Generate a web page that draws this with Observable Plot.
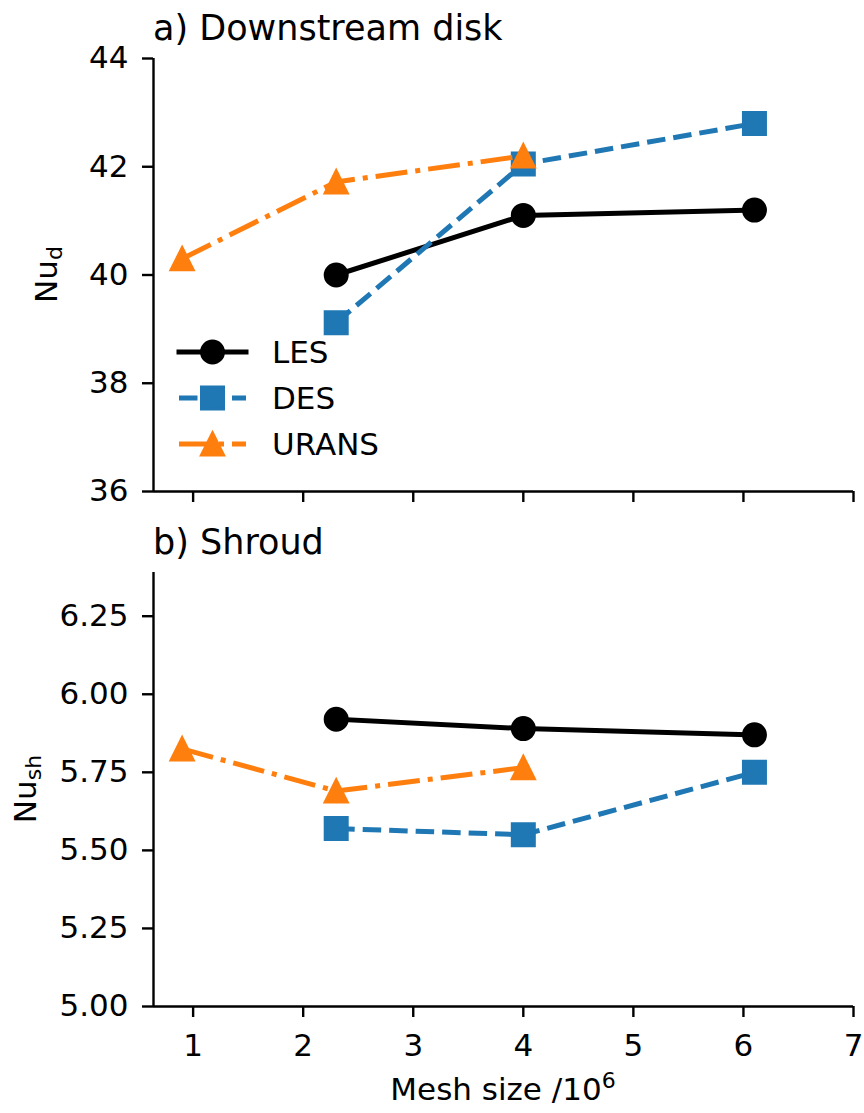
<!DOCTYPE html>
<html><head><meta charset="utf-8">
<script src="https://cdn.jsdelivr.net/npm/d3@7"></script>
<script src="https://cdn.jsdelivr.net/npm/@observablehq/plot@0.6"></script>
<style>
body{margin:0;background:#fff;}
#chart{width:864px;}
#chart svg{display:block;}
#chart g[aria-label$="tick label"], #chart g[aria-label$="tick label"] text { font-size: 31px !important; }
</style></head><body><div id="chart"></div>
<script>
// ---- data ----
const seriesNames = ["LES", "DES", "URANS"];
const seriesColors = ["#000000", "#1f77b4", "#ff7f0e"];
const lesMesh = [2.3, 4, 6.1];
const lesDisk = [40.0, 41.1, 41.2];
const lesShroud = [5.92, 5.89, 5.87];
const desMesh = [2.3, 4, 6.1];
const desDisk = [39.12, 42.05, 42.8];
const desShroud = [5.57, 5.55, 5.75];
const uransMesh = [0.9, 2.3, 4];
const uransDisk = [40.3, 41.72, 42.2];
const uransShroud = [5.825, 5.69, 5.765];
const xTicks = [1, 2, 3, 4, 5, 6, 7];
const diskTicks = [36, 38, 40, 42, 44];
const shroudTicks = [5.00, 5.25, 5.50, 5.75, 6.00, 6.25];
const titleTop = "a) Downstream disk";
const titleBottom = "b) Shroud";
const xLabel = ["Mesh size /10", "6"];
const yLabelTop = ["Nu", "d"];
const yLabelBottom = ["Nu", "sh"];

// ---- styles ----
const FONT = "DejaVu Sans";
const FS = 31;
const xDomain = [0.64, 7];
const diskDomain = [36, 44];
const shroudDomain = [5.0, 6.39];
const LW = 5, MR = 11, MEW = 3, SPW = 2.4, TICK = 11;
const squareSym = {draw(ctx, size) { const r = Math.sqrt(size / Math.PI); ctx.moveTo(-r, -r); ctx.lineTo(r, -r); ctx.lineTo(r, r); ctx.lineTo(-r, r); ctx.closePath(); }};
const triSym = {draw(ctx, size) { const r = Math.sqrt(size / Math.PI); ctx.moveTo(0, -r); ctx.lineTo(r, r); ctx.lineTo(-r, r); ctx.closePath(); }};
const symbols = [d3.symbolCircle, squareSym, triSym];
const dashes = [null, "18.5,8", "32,8,5,8"];
const caps = ["square", "butt", "butt"];

const meshAll = [lesMesh, desMesh, uransMesh];
const diskAll = [lesDisk, desDisk, uransDisk];
const shroudAll = [lesShroud, desShroud, uransShroud];
const rows = seriesNames.map((s, i) => meshAll[i].map((m, j) => ({series: s, mesh: m, disk: diskAll[i][j], shroud: shroudAll[i][j]})));

function seriesMarks(key) {
  const out = [];
  rows.forEach((data, i) => {
    out.push(Plot.line(data, {x: "mesh", y: key, stroke: seriesColors[i], strokeWidth: LW,
      strokeDasharray: dashes[i] || undefined, strokeLinecap: caps[i], strokeLinejoin: "round"}));
    out.push(Plot.dot(data, {x: "mesh", y: key, r: MR, symbol: symbols[i], fill: seriesColors[i],
      stroke: seriesColors[i], strokeWidth: MEW}));
  });
  return out;
}

const baseStyle = {fontFamily: FONT, fontSize: FS + "px", color: "#000", background: "#fff", overflow: "visible"};

const topPlot = Plot.plot({
  width: 864, height: 520, marginLeft: 153, marginRight: 11, marginTop: 58, marginBottom: 29,
  style: baseStyle,
  x: {domain: xDomain}, y: {domain: diskDomain},
  marks: [
    Plot.axisY({ticks: diskTicks, tickSize: TICK, tickPadding: 14, strokeWidth: SPW, label: null, fontSize: FS, tickFormat: d3.format("d")}),
    Plot.axisX({ticks: xTicks, tickSize: TICK, strokeWidth: SPW, label: null, fontSize: FS, tickFormat: () => ""}),
    Plot.ruleX([xDomain[0]], {strokeWidth: SPW}),
    Plot.ruleY([diskDomain[0]], {strokeWidth: SPW}),
    ...seriesMarks("disk")
  ]
});

const bottomPlot = Plot.plot({
  width: 864, height: 593, marginLeft: 153, marginRight: 11, marginTop: 52, marginBottom: 107,
  style: baseStyle,
  x: {domain: xDomain}, y: {domain: shroudDomain},
  marks: [
    Plot.axisY({ticks: shroudTicks, tickSize: TICK, tickPadding: 14, strokeWidth: SPW, label: null, fontSize: FS, tickFormat: d3.format(".2f")}),
    Plot.axisX({ticks: xTicks, tickSize: TICK, tickPadding: 16, strokeWidth: SPW, label: null, fontSize: FS, tickFormat: d3.format("d")}),
    Plot.ruleX([xDomain[0]], {strokeWidth: SPW}),
    Plot.ruleY([shroudDomain[0]], {strokeWidth: SPW}),
    ...seriesMarks("shroud")
  ]
});

const chart = document.getElementById("chart");
chart.append(topPlot, bottomPlot);

function addTitle(svg, text, y) {
  d3.select(svg).append("text").attr("x", 153).attr("y", y).attr("text-anchor", "start")
    .attr("font-family", FONT).attr("font-size", 35).attr("fill", "#000").text(text);
}
addTitle(topPlot, titleTop, 40);
addTitle(bottomPlot, titleBottom, 34);

function addYLabel(svg, parts, x, y) {
  const t = d3.select(svg).append("text").attr("transform", `translate(${x},${y}) rotate(-90)`)
    .attr("text-anchor", "middle").attr("font-family", FONT).attr("font-size", FS).attr("fill", "#000");
  t.append("tspan").text(parts[0]);
  t.append("tspan").attr("font-size", 22).attr("dy", 5).text(parts[1]);
}
addYLabel(topPlot, yLabelTop, 57, 274.5);
addYLabel(bottomPlot, yLabelBottom, 36, 269);

{
  const t = d3.select(bottomPlot).append("text").attr("x", 503).attr("y", 580)
    .attr("text-anchor", "middle").attr("font-family", FONT).attr("font-size", FS).attr("fill", "#000");
  t.append("tspan").text(xLabel[0]);
  t.append("tspan").attr("font-size", 22).attr("dy", -12).text(xLabel[1]);
}

// legend
{
  const g = d3.select(topPlot).append("g");
  seriesNames.forEach((name, i) => {
    const y = 352 + i * 46;
    g.append("line").attr("x1", 179).attr("x2", 246).attr("y1", y).attr("y2", y)
      .attr("stroke", seriesColors[i]).attr("stroke-width", LW)
      .attr("stroke-dasharray", dashes[i]).attr("stroke-linecap", caps[i]);
    const p = d3.path();
    symbols[i].draw(p, Math.PI * MR * MR);
    g.append("path").attr("d", p.toString()).attr("transform", `translate(212.5,${y})`)
      .attr("fill", seriesColors[i]).attr("stroke", seriesColors[i]).attr("stroke-width", MEW);
    g.append("text").attr("x", 272).attr("y", y).attr("dy", "0.36em").attr("text-anchor", "start")
      .attr("font-family", FONT).attr("font-size", FS).attr("fill", "#000").text(name);
  });
}
</script></body></html>
